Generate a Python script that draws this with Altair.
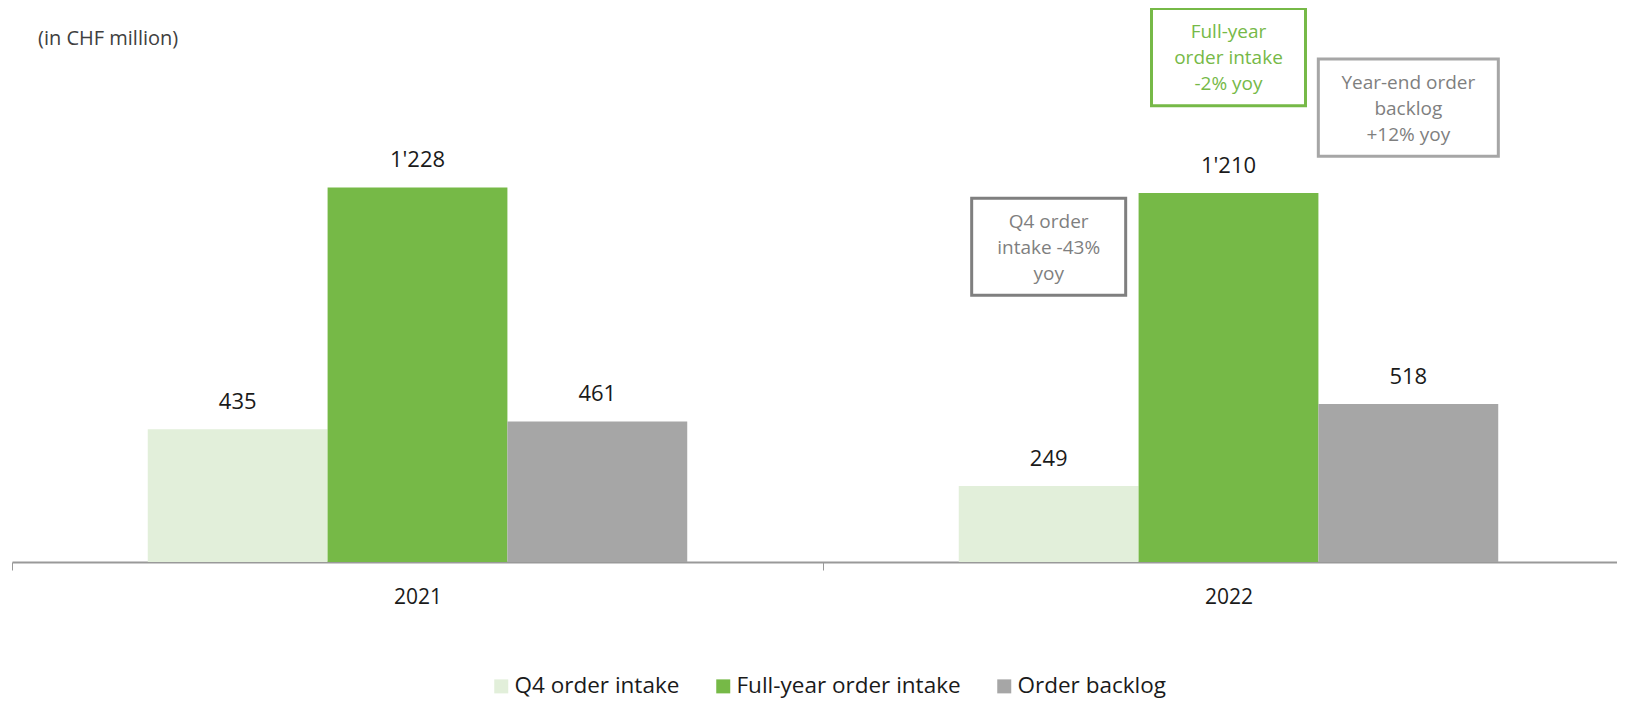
import altair as alt
import pandas as pd

# ---- data ----
years = ["2021", "2022"]
series = ["Q4 order intake", "Full-year order intake", "Order backlog"]
q4_intake = [435, 249]
fy_intake = [1228, 1210]
order_backlog = [461, 518]

ann_year = ["2022", "2022", "2022"]
ann_series = ["Q4 order intake", "Full-year order intake", "Order backlog"]
ann_text = ["Q4 order\nintake -43%\nyoy", "Full-year\norder intake\n-2% yoy", "Year-end order\nbacklog\n+12% yoy"]
ann_top = [1193, 1815, 1649]      # box top, in CHF million units
ann_bottom = [875, 1496, 1330]    # box bottom, in CHF million units

# ---- styles ----
bar_colors = ["#e2efda", "#76b947", "#a6a6a6"]
box_widths = [154, 154, 180]
box_strokes = ["#7f7f7f", "#76b947", "#a6a6a6"]
box_text_colors = ["#7f7f7f", "#76b947", "#7f7f7f"]
FONT = "Open Sans"

values = [q4_intake, fy_intake, order_backlog]
rows = []
for i, s in enumerate(series):
    for j, yr in enumerate(years):
        v = values[i][j]
        rows.append({"year": yr, "series": s, "value": v,
                     "label": f"{v:,}".replace(",", "'")})
df = pd.DataFrame(rows)

ann_df = pd.DataFrame({
    "year": ann_year,
    "series": ann_series,
    "text": ann_text,
    "top": ann_top,
    "bottom": ann_bottom,
    "mid": [(a + b) / 2 for a, b in zip(ann_top, ann_bottom)],
    "w": box_widths,
    "stroke": box_strokes,
    "tcolor": box_text_colors,
})

x_scale = alt.Scale(domain=years, range=[0, 1622], paddingInner=0, paddingOuter=0)
x_axis = alt.Axis(title=None, labelAngle=0, tickBand="extent", grid=False,
                  domainColor="#999999", domainWidth=2, tickColor="#999999",
                  tickWidth=1, tickSize=8, labelFontSize=21, labelFont=FONT,
                  labelColor="#1a1a1a", labelPadding=16)
x_enc = alt.X("year:N", sort=years, scale=x_scale, axis=x_axis)
xo_enc = alt.XOffset("series:N", sort=series,
                     scale=alt.Scale(domain=series, paddingInner=0, paddingOuter=0.755))
y_scale = alt.Scale(domain=[0, 1800], nice=False, zero=True)

bars = alt.Chart(df).mark_bar().encode(
    x=x_enc,
    xOffset=xo_enc,
    y=alt.Y("value:Q", scale=y_scale, axis=None),
    color=alt.Color("series:N", sort=series,
                    scale=alt.Scale(domain=series, range=bar_colors),
                    legend=alt.Legend(title=None, orient="none", legendX=478, legendY=662,
                                      direction="horizontal", symbolType="square",
                                      symbolSize=196, symbolStrokeWidth=0,
                                      labelFontSize=22.5, labelFont=FONT,
                                      labelColor="#1a1a1a", labelOffset=2,
                                      labelLimit=400,
                                      columnPadding=32, padding=0)),
)

labels = alt.Chart(df).mark_text(dy=-27, fontSize=22, font=FONT, color="#1a1a1a",
                                 baseline="middle").encode(
    x=x_enc,
    xOffset=xo_enc,
    y=alt.Y("value:Q", scale=y_scale, axis=None),
    text="label:N",
)

boxes = alt.Chart(ann_df).mark_bar(fillOpacity=0, strokeWidth=3).encode(
    x=x_enc,
    xOffset=xo_enc,
    y=alt.Y("top:Q", scale=y_scale, axis=None),
    y2="bottom:Q",
    size=alt.Size("w:Q", scale=None),
    stroke=alt.Stroke("stroke:N", scale=None),
)

ann_labels = alt.Chart(ann_df).mark_text(lineBreak="\n", fontSize=19, lineHeight=26,
                                         baseline="middle", dy=-25, font=FONT).encode(
    x=x_enc,
    xOffset=xo_enc,
    y=alt.Y("mid:Q", scale=y_scale, axis=None),
    text="text:N",
    fill=alt.Fill("tcolor:N", scale=None),
)

chart = alt.layer(bars, labels, boxes, ann_labels).properties(
    width=1605,
    height=549,
    autosize=alt.AutoSizeParams(type="none"),
    padding={"left": 4, "top": 5, "right": 0, "bottom": 150},
    title=alt.Title("(in CHF million)", anchor="start", frame="group", dx=26, dy=52,
                    offset=0, baseline="middle", fontSize=20, font=FONT,
                    color="#404040", fontWeight="normal", orient="top"),
).configure_view(strokeWidth=0)

chart.save("out.html", embed_options={"renderer": "svg", "actions": False})
